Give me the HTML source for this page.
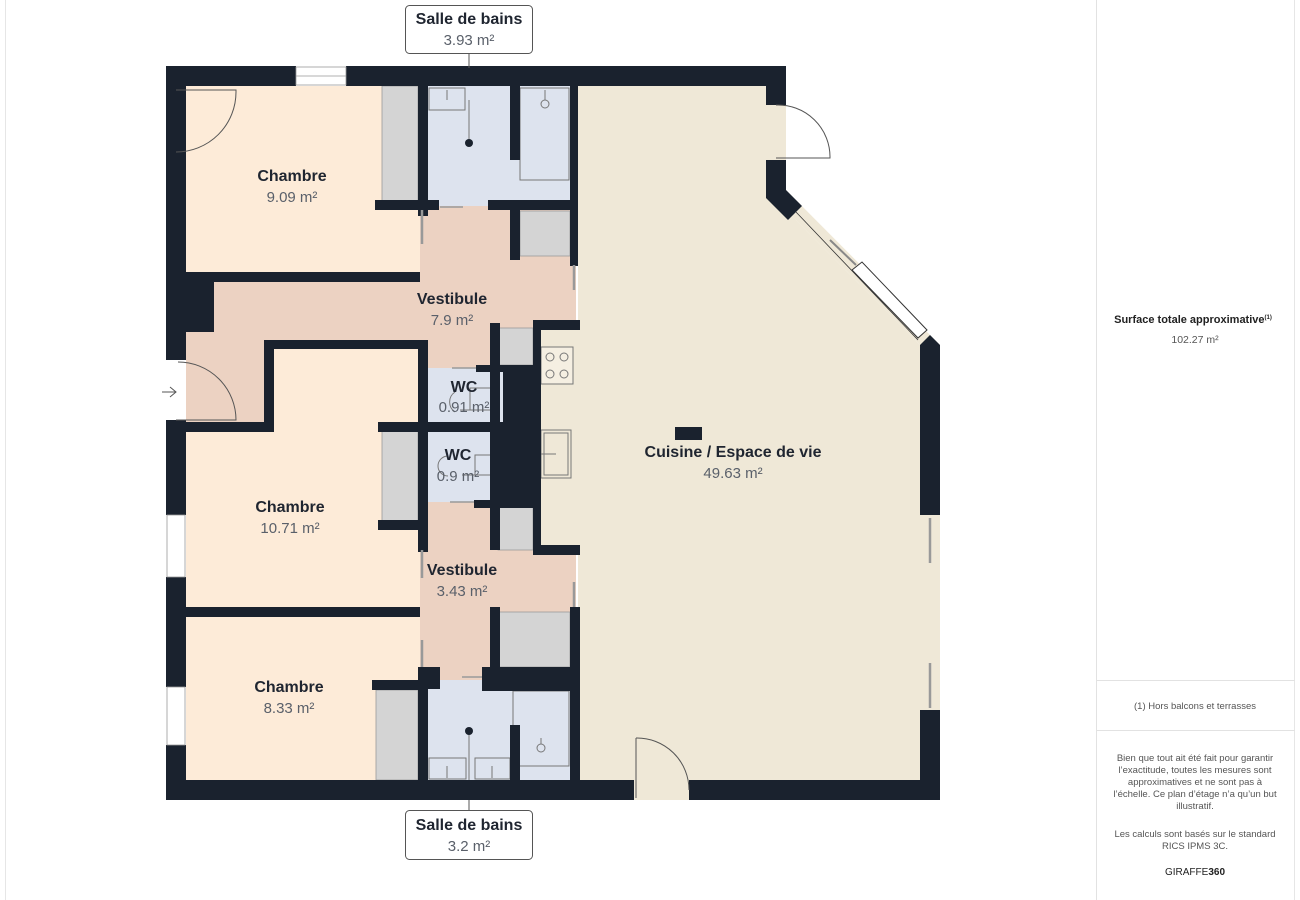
<!DOCTYPE html>
<html><head><meta charset="utf-8"><style>
html,body{margin:0;padding:0;background:#fff;width:1300px;height:900px;overflow:hidden}
svg{display:block}
text{font-family:"Liberation Sans",sans-serif}
.t{font-weight:bold;font-size:16px;fill:#1f2530;text-anchor:middle}
.a{font-size:15px;fill:#5a606a;text-anchor:middle}
.s{font-size:9.5px;fill:#555;text-anchor:middle}
</style></head><body>
<svg width="1300" height="900" viewBox="0 0 1300 900" xmlns="http://www.w3.org/2000/svg">
<rect x="5.5" y="-1" width="1289" height="902" fill="none" stroke="#e6e6e6"/>
<line x1="1096.5" y1="0" x2="1096.5" y2="900" stroke="#e2e2e2"/>
<line x1="1096" y1="680.5" x2="1295" y2="680.5" stroke="#e2e2e2"/>
<line x1="1096" y1="730.5" x2="1295" y2="730.5" stroke="#e2e2e2"/>

<!-- floors -->
<rect x="420" y="200" width="156" height="168" fill="#ecd2c2"/>
<rect x="420" y="500" width="156" height="180" fill="#ecd2c2"/>
<polygon points="578,86 766,86 766,190 920,345 920,780 578,780" fill="#efe8d7"/>
<rect x="766" y="105" width="20" height="55" fill="#efe8d7"/>
<polygon points="766,190 786,190 940,345 920,345" fill="#efe8d7"/>
<rect x="920" y="515" width="20" height="195" fill="#efe8d7"/>
<rect x="634" y="780" width="55" height="20" fill="#efe8d7"/>
<rect x="186" y="86" width="234" height="186" fill="#fdebd8"/>
<rect x="274" y="348" width="146" height="80" fill="#fdebd8"/>
<rect x="186" y="428" width="234" height="180" fill="#fdebd8"/>
<rect x="186" y="617" width="234" height="163" fill="#fdebd8"/>
<rect x="186" y="282" width="390" height="60" fill="#ecd2c2"/>
<rect x="186" y="340" width="80" height="85" fill="#ecd2c2"/>
<rect x="538" y="328" width="42" height="220" fill="#efe8d7"/>
<rect x="428" y="86" width="142" height="120" fill="#dde3ee"/>
<rect x="426" y="368" width="80" height="56" fill="#dde3ee"/>
<rect x="426" y="430" width="66" height="72" fill="#dde3ee"/>
<rect x="428" y="680" width="147" height="100" fill="#dde3ee"/>
<!-- closets -->
<g fill="#d4d4d4" stroke="#9a9a9a" stroke-width="0.8">
<rect x="382" y="86" width="36" height="117"/>
<rect x="520" y="211" width="50" height="45"/>
<rect x="498" y="328" width="35" height="37"/>
<rect x="382" y="430" width="36" height="92"/>
<rect x="498" y="507" width="35" height="43"/>
<rect x="498" y="612" width="72" height="55"/>
<rect x="376" y="690" width="42" height="90"/>
</g>
<!-- fixtures -->
<g fill="none" stroke="#777" stroke-width="1">
<rect x="429" y="88" width="36" height="22"/><line x1="447" y1="90" x2="447" y2="100"/>
<rect x="520" y="88" width="49" height="92"/><circle cx="545" cy="104" r="4"/><line x1="545" y1="90" x2="545" y2="100"/>
<rect x="429" y="758" width="37" height="21"/><rect x="475" y="758" width="35" height="21"/>
<line x1="447" y1="766" x2="447" y2="778"/><line x1="492" y1="766" x2="492" y2="778"/>
<rect x="513" y="691" width="56" height="75"/><circle cx="541" cy="748" r="4"/><line x1="541" y1="744" x2="541" y2="738"/>
<rect x="541" y="347" width="32" height="37" fill="#f5efe2"/>
<circle cx="550" cy="357" r="4"/><circle cx="564" cy="357" r="4"/><circle cx="550" cy="374" r="4"/><circle cx="564" cy="374" r="4"/>
<rect x="541" y="430" width="30" height="48"/><rect x="544" y="433" width="24" height="42"/>
<line x1="541" y1="454" x2="556" y2="454"/>
<path d="M490 388 H470 V410 M460 410 H490" /><path d="M455 392 A12 12 0 0 0 455 412"/>
<path d="M490 455 H475 V475 M462 475 H490" /><path d="M448 456 A10 10 0 0 0 448 476"/>
<line x1="469" y1="100" x2="469" y2="143"/><line x1="469" y1="732" x2="469" y2="780"/>
</g>
<circle cx="469" cy="143" r="4" fill="#1a222e"/><circle cx="469" cy="731" r="4" fill="#1a222e"/>
<!-- walls -->
<g fill="#1a222e">
<rect x="166" y="66" width="130" height="20"/><rect x="346" y="66" width="440" height="20"/>
<rect x="166" y="66" width="20" height="86"/>
<rect x="166" y="152" width="20" height="208"/>
<rect x="166" y="278" width="48" height="54"/>
<rect x="166" y="420" width="20" height="95"/>
<rect x="166" y="577" width="20" height="110"/>
<rect x="166" y="745" width="20" height="55"/>
<rect x="166" y="780" width="468" height="20"/><rect x="689" y="780" width="251" height="20"/>
<rect x="766" y="66" width="20" height="39"/><rect x="766" y="160" width="20" height="30"/>
<polygon points="766,190 786,190 802,206 788,220 766,198"/>
<polygon points="920,345 930,335 940,345 940,515 920,515"/>
<rect x="920" y="710" width="20" height="90"/>
<rect x="186" y="272" width="234" height="10"/>
<rect x="264" y="340" width="156" height="9"/><rect x="264" y="340" width="10" height="88"/>
<rect x="186" y="422" width="88" height="10"/>
<rect x="186" y="607" width="234" height="10"/>
<rect x="375" y="200" width="64" height="10"/><rect x="418" y="86" width="10" height="130"/>
<rect x="488" y="200" width="88" height="10"/><rect x="510" y="86" width="10" height="74"/>
<rect x="510" y="208" width="10" height="52"/><rect x="570" y="86" width="8" height="180"/>
<rect x="418" y="340" width="10" height="212"/>
<rect x="378" y="422" width="50" height="10"/><rect x="378" y="520" width="50" height="10"/>
<rect x="418" y="422" width="72" height="10"/>
<rect x="490" y="323" width="10" height="227"/><rect x="533" y="320" width="47" height="10"/>
<rect x="533" y="320" width="8" height="235"/><rect x="476" y="365" width="57" height="7"/>
<rect x="503" y="365" width="30" height="140"/><rect x="490" y="422" width="43" height="83"/>
<rect x="474" y="500" width="59" height="8"/><rect x="533" y="545" width="47" height="10"/>
<rect x="490" y="607" width="10" height="70"/><rect x="570" y="607" width="10" height="180"/>
<rect x="418" y="667" width="22" height="22"/><rect x="482" y="667" width="98" height="24"/>
<rect x="372" y="680" width="56" height="10"/><rect x="418" y="667" width="10" height="120"/>
<rect x="510" y="725" width="10" height="60"/>
<rect x="675" y="427" width="27" height="13"/>
</g>
<!-- windows / doors -->
<rect x="296" y="67" width="50" height="18" fill="#fff" stroke="#999" stroke-width="0.8"/>
<line x1="296" y1="76" x2="346" y2="76" stroke="#999" stroke-width="0.8"/>
<g fill="#fff" stroke="#999" stroke-width="0.8">
<rect x="167" y="515" width="18" height="62"/><rect x="167" y="687" width="18" height="58"/>
</g>
<g fill="none" stroke="#555" stroke-width="1">
<path d="M176 152 A60 60 0 0 0 236 92 V90 H176"/>
<path d="M176 420 H236 A58 58 0 0 0 178 362"/>
<path d="M162 392 H176 M170 387 L176 392 L170 397"/>
<path d="M776 105 A52 52 0 0 1 830 158 H776"/>
<path d="M636 738 V798 M636 738 A52 52 0 0 1 689 790"/>
</g>
<polygon points="852,270 862,262 927,330 918,338" fill="#fff" stroke="#333" stroke-width="1"/>
<line x1="796" y1="212" x2="918" y2="340" stroke="#333" stroke-width="0.8"/>
<line x1="830" y1="240" x2="856" y2="265" stroke="#888" stroke-width="2"/>
<g stroke="#999" stroke-width="2.5">
<line x1="930" y1="518" x2="930" y2="563"/><line x1="930" y1="663" x2="930" y2="708"/>
<line x1="574" y1="265" x2="574" y2="290"/><line x1="574" y1="582" x2="574" y2="607"/>
<line x1="422" y1="210" x2="422" y2="244"/><line x1="422" y1="550" x2="422" y2="578"/><line x1="422" y1="640" x2="422" y2="667"/>
</g>
<g stroke="#999" stroke-width="1.5">
<line x1="440" y1="207" x2="463" y2="207"/><line x1="452" y1="368" x2="476" y2="368"/>
<line x1="450" y1="502" x2="474" y2="502"/><line x1="462" y1="677" x2="482" y2="677"/>
</g>
<!-- labels -->
<text class="t" x="292" y="181">Chambre</text><text class="a" x="292" y="202">9.09 m²</text>
<text class="t" x="452" y="304">Vestibule</text><text class="a" x="452" y="325">7.9 m²</text>
<text class="t" x="464" y="392">WC</text><text class="a" x="464" y="412">0.91 m²</text>
<text class="t" x="458" y="460">WC</text><text class="a" x="458" y="481">0.9 m²</text>
<text class="t" x="290" y="512">Chambre</text><text class="a" x="290" y="533">10.71 m²</text>
<text class="t" x="462" y="575">Vestibule</text><text class="a" x="462" y="596">3.43 m²</text>
<text class="t" x="289" y="692">Chambre</text><text class="a" x="289" y="713">8.33 m²</text>
<text class="t" x="733" y="457">Cuisine / Espace de vie</text><text class="a" x="733" y="478">49.63 m²</text>
<line x1="469" y1="53" x2="469" y2="68" stroke="#555"/>
<rect x="405.5" y="5.5" width="127" height="48" rx="4" fill="#fff" stroke="#555"/>
<text class="t" x="469" y="24">Salle de bains</text><text class="a" x="469" y="45">3.93 m²</text>
<line x1="469" y1="800" x2="469" y2="811" stroke="#555"/>
<rect x="405.5" y="810.5" width="127" height="49" rx="4" fill="#fff" stroke="#555"/>
<text class="t" x="469" y="830">Salle de bains</text><text class="a" x="469" y="851">3.2 m²</text>
<!-- side panel -->
<text x="1193" y="323" style="font-weight:bold;font-size:11px;fill:#222;text-anchor:middle">Surface totale approximative<tspan font-size="6" dy="-4">(1)</tspan></text>
<text x="1195" y="343" style="font-size:10.5px;fill:#555;text-anchor:middle">102.27 m²</text>
<text class="s" x="1195" y="709">(1) Hors balcons et terrasses</text>
<text class="s" x="1195" y="761">Bien que tout ait été fait pour garantir</text>
<text class="s" x="1195" y="773">l’exactitude, toutes les mesures sont</text>
<text class="s" x="1195" y="785">approximatives et ne sont pas à</text>
<text class="s" x="1195" y="797">l’échelle. Ce plan d’étage n’a qu’un but</text>
<text class="s" x="1195" y="809">illustratif.</text>
<text class="s" x="1195" y="837">Les calculs sont basés sur le standard</text>
<text class="s" x="1195" y="849">RICS IPMS 3C.</text>
<text x="1195" y="875" style="font-size:10px;fill:#222;text-anchor:middle">GIRAFFE<tspan font-weight="bold">360</tspan></text>
</svg>
</body></html>
